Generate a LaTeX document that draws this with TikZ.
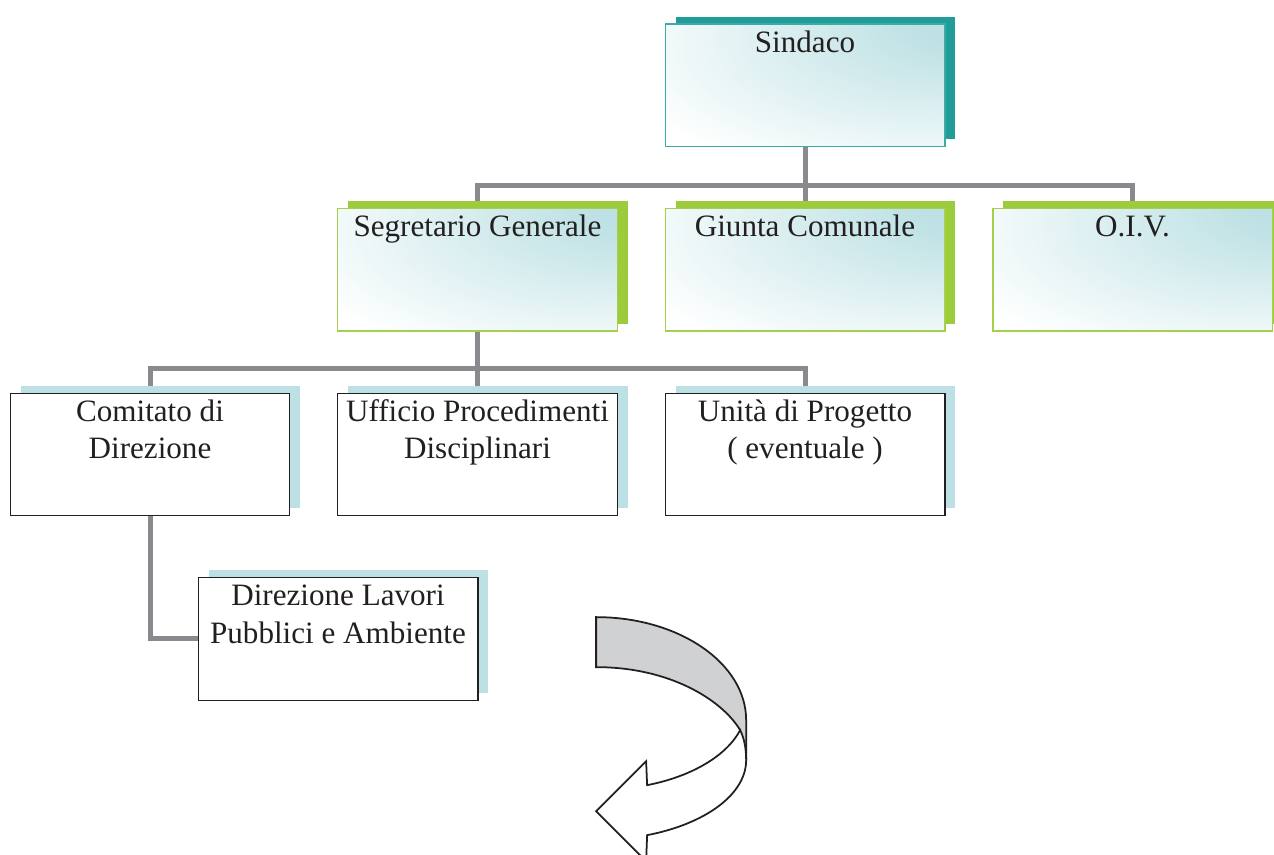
\documentclass[tikz,border=0pt]{standalone}
\usepackage{fontspec}
\setmainfont{Liberation Serif}
\usetikzlibrary{shadows, backgrounds}
\definecolor{inkgray}{RGB}{35,31,32}
\definecolor{linkgray}{RGB}{137,138,141}
\definecolor{glowcyan}{RGB}{189,225,228}
\definecolor{tealline}{RGB}{60,170,166}
\definecolor{tealshadow}{RGB}{32,157,152}
\definecolor{greenline}{RGB}{164,208,76}
\definecolor{greenshadow}{RGB}{156,203,59}
\definecolor{paleblue}{RGB}{188,224,227}
\definecolor{arrowgray}{RGB}{208,209,211}
\pgfdeclareradialshading{boxglow}{\pgfpoint{34bp}{29bp}}{color(0bp)=(glowcyan); color(10bp)=(glowcyan); color(52bp)=(white); color(100bp)=(white)}
\tikzstyle{box} = [rectangle, minimum width=5.59cm, minimum height=2.45cm, inner xsep=0.1cm, inner ysep=0.04cm, line width=0.85pt, text=inkgray, font=\fontsize{17.7pt}{21.3pt}\selectfont]
\tikzstyle{tealbox} = [box, draw=tealline, shade, shading=boxglow, drop shadow={shadow xshift=0.21cm, shadow yshift=0.15cm, opacity=1, fill=tealshadow}]
\tikzstyle{greenbox} = [box, draw=greenline, shade, shading=boxglow, drop shadow={shadow xshift=0.21cm, shadow yshift=0.15cm, opacity=1, fill=greenshadow}]
\tikzstyle{plainbox} = [box, draw=inkgray, fill=white, drop shadow={shadow xshift=0.21cm, shadow yshift=0.15cm, opacity=1, fill=paleblue}]
\tikzstyle{link} = [line width=0.1cm, draw=linkgray]
\newcommand{\boxtext}[1]{\parbox[t][2.37cm][t]{5.39cm}{\centering\strut #1}}

\begin{document}
\begin{tikzpicture}
            \useasboundingbox (0,0) rectangle (25.48,-17.1);
            \clip (0,0) rectangle (25.48,-17.1);

            \node (sindaco) [tealbox] at (16.1,-1.71) {\boxtext{Sindaco}};
            \node (giunta) [greenbox, below of = sindaco, yshift = -2.69cm] {\boxtext{Giunta Comunale}};
            \node (segr) [greenbox, left of = giunta, xshift = -5.55cm] {\boxtext{Segretario Generale}};
            \node (oiv) [greenbox, right of = giunta, xshift = 5.55cm] {\boxtext{O.I.V.}};

            \node (upd) [plainbox, below of = segr, yshift = -2.69cm] {\boxtext{Ufficio Procedimenti\\Disciplinari}};
            \node (comitato) [plainbox, left of = upd, xshift = -5.55cm] {\boxtext{Comitato di\\Direzione}};
            \node (unita) [plainbox, right of = upd, xshift = 5.55cm] {\boxtext{Unità di Progetto\\( eventuale )}};
            \node (dirlav) [plainbox, below of = comitato, yshift = -2.69cm, xshift = 3.76cm] {\boxtext{Direzione Lavori\\Pubblici e Ambiente}};

            \begin{scope}[on background layer]
                \draw[link] (sindaco.south) -- ++(0,-0.76) -| (segr.north);
                \draw[link] (sindaco.south) -- ++(0,-0.76) -| (oiv.north);
                \draw[link] (sindaco) -- (giunta);
                \draw[link] (segr.south) -- ++(0,-0.74) -| (comitato.north);
                \draw[link] (segr.south) -- ++(0,-0.74) -| (unita.north);
                \draw[link] (segr) -- (upd);
                \draw[link] (comitato.south) |- (dirlav.west);
            \end{scope}

            % curved arrow, in pixel units
            \begin{scope}[x=0.02cm, y=-0.02cm, line width=1pt]
                \filldraw[fill=arrowgray, draw=inkgray] (596,617) .. controls (678.8,617) and (746,663.1) .. (746,720)
                    -- (746,760) -- (740,730) .. controls (722,700) and (670,667) .. (596,667) -- cycle;
                \filldraw[fill=white, draw=inkgray] (740,730) .. controls (726.6,755.4) and (691.8,776.3) .. (647,785)
                    -- (646,761) -- (596,811) -- (646,861) -- (647,835)
                    .. controls (706.3,823.5) and (746,793.6) .. (746,760)
                    .. controls (746,748) and (744,738) .. cycle;
            \end{scope}
        \end{tikzpicture}
\end{document}
